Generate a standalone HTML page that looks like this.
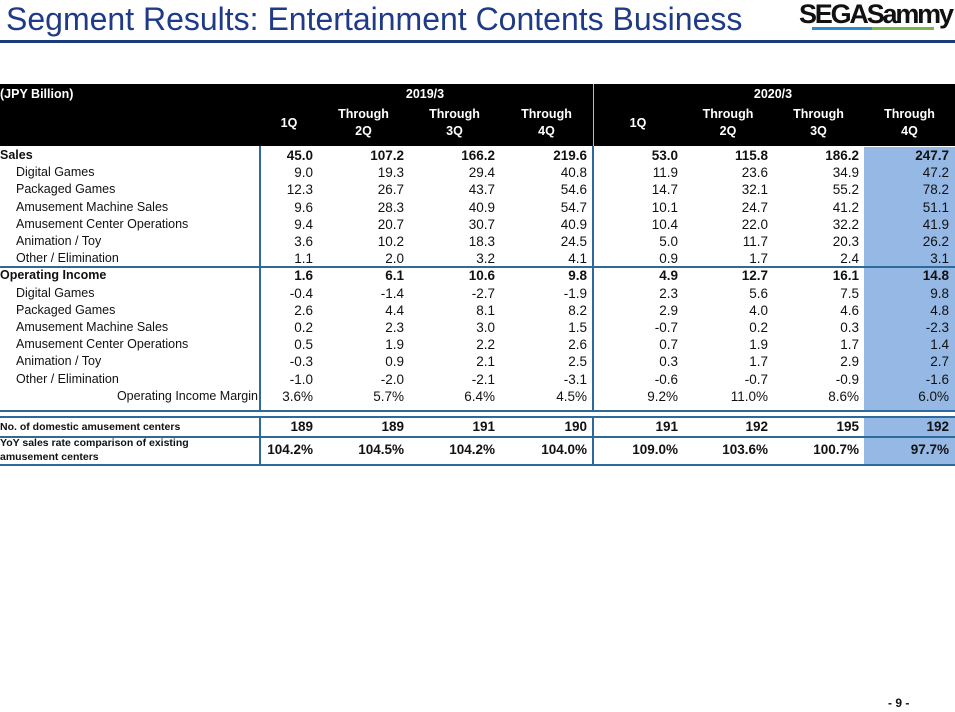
<!DOCTYPE html>
<html><head><meta charset="utf-8"><style>
body{margin:0;width:955px;height:712px;background:#fff;position:relative;overflow:hidden;font-family:"Liberation Sans",Arial,sans-serif;}
.a{position:absolute;}
.title{left:6px;top:1px;font-size:32px;color:#1f3b87;white-space:nowrap;}
.hl{left:0;top:40px;width:955px;height:3px;background:#1a3a7a;}
.hdr{left:0;top:84px;width:955px;height:62px;background:#000;}
.h{color:#fff;font-weight:bold;font-size:12.5px;text-align:center;line-height:17px;}
.row{position:absolute;left:0;width:955px;height:17.2px;line-height:17.2px;font-size:13.5px;color:#111;}
.row span{position:absolute;top:0;text-align:right;}
.lb{left:0;font-size:12.5px;text-align:left!important;}
.b{font-weight:bold;}
.blue{left:864px;top:147px;width:91px;height:318px;background:#95b8e4;}
.vl{width:2px;background:#2b6a9a;}
.hz{left:0;width:955px;height:2px;background:#2b6a9a;}
</style></head><body>
<div class="a title">Segment Results: Entertainment Contents Business</div>
<div class="a hl"></div>
<div class="a" style="left:799px;top:-1px;font-size:27px;font-weight:bold;letter-spacing:-2.2px;color:#111;">SEGASammy</div>
<div class="a" style="left:812px;top:27px;width:60px;height:3px;background:#2a8ccf;"></div>
<div class="a" style="left:872px;top:27px;width:62px;height:3px;background:#7ab648;"></div>
<div class="a blue"></div>
<div class="a hdr"></div>
<div class="a" style="left:593px;top:84px;width:1px;height:62px;background:#bbb;"></div>
<div class="a h" style="left:0;top:86px;">(JPY Billion)</div>
<div class="a h" style="left:385px;top:86px;width:80px;">2019/3</div>
<div class="a h" style="left:733px;top:86px;width:80px;">2020/3</div>
<div class="a h" style="left:260px;top:115px;width:58px;">1Q</div>
<div class="a h" style="left:318px;top:106px;width:91px;">Through<br>2Q</div>
<div class="a h" style="left:409px;top:106px;width:91px;">Through<br>3Q</div>
<div class="a h" style="left:500px;top:106px;width:93px;">Through<br>4Q</div>
<div class="a h" style="left:593px;top:115px;width:90px;">1Q</div>
<div class="a h" style="left:683px;top:106px;width:90px;">Through<br>2Q</div>
<div class="a h" style="left:773px;top:106px;width:91px;">Through<br>3Q</div>
<div class="a h" style="left:864px;top:106px;width:91px;">Through<br>4Q</div>

<div class="a vl" style="left:259px;top:146px;height:320px;"></div>
<div class="a vl" style="left:592px;top:146px;height:320px;"></div>
<div class="a hz" style="top:266px;"></div>
<div class="a hz" style="top:410px;"></div>
<div class="a hz" style="top:416px;"></div>
<div class="a hz" style="top:436px;"></div>
<div class="a hz" style="top:464px;"></div>
<div class="a" style="left:0;top:412px;width:955px;height:4px;background:#fff;"></div>

<div id="rows"></div>
<script>
var R=[
["Sales",1,["45.0","107.2","166.2","219.6","53.0","115.8","186.2","247.7"]],
["Digital Games",0,["9.0","19.3","29.4","40.8","11.9","23.6","34.9","47.2"]],
["Packaged Games",0,["12.3","26.7","43.7","54.6","14.7","32.1","55.2","78.2"]],
["Amusement Machine Sales",0,["9.6","28.3","40.9","54.7","10.1","24.7","41.2","51.1"]],
["Amusement Center Operations",0,["9.4","20.7","30.7","40.9","10.4","22.0","32.2","41.9"]],
["Animation / Toy",0,["3.6","10.2","18.3","24.5","5.0","11.7","20.3","26.2"]],
["Other / Elimination",0,["1.1","2.0","3.2","4.1","0.9","1.7","2.4","3.1"]],
["Operating Income",1,["1.6","6.1","10.6","9.8","4.9","12.7","16.1","14.8"]],
["Digital Games",0,["-0.4","-1.4","-2.7","-1.9","2.3","5.6","7.5","9.8"]],
["Packaged Games",0,["2.6","4.4","8.1","8.2","2.9","4.0","4.6","4.8"]],
["Amusement Machine Sales",0,["0.2","2.3","3.0","1.5","-0.7","0.2","0.3","-2.3"]],
["Amusement Center Operations",0,["0.5","1.9","2.2","2.6","0.7","1.9","1.7","1.4"]],
["Animation / Toy",0,["-0.3","0.9","2.1","2.5","0.3","1.7","2.9","2.7"]],
["Other / Elimination",0,["-1.0","-2.0","-2.1","-3.1","-0.6","-0.7","-0.9","-1.6"]],
["Operating Income Margin",2,["3.6%","5.7%","6.4%","4.5%","9.2%","11.0%","8.6%","6.0%"]]
];
var RE=[313,404,495,587,678,768,859,949];
var h="";
function cells(v,b){var s="";for(var j=0;j<8;j++){s+='<span class="'+(b?'b':'')+'" style="right:'+(955-RE[j])+'px">'+v[j]+'</span>';}return s;}
R.forEach(function(r,i){
 var top=147+i*17.2;
 var lab;
 if(r[1]==1) lab='<span class="lb b" style="left:0">'+r[0]+'</span>';
 else if(r[1]==2) lab='<span style="right:697px;font-size:12.5px">'+r[0]+'</span>';
 else lab='<span class="lb" style="left:16px">'+r[0]+'</span>';
 h+='<div class="row" style="top:'+top+'px">'+lab+cells(r[2],r[1]==1)+'</div>';
});
h+='<div class="row" style="top:418px;height:18px;line-height:18px">'+'<span class="lb b" style="left:0;font-size:10.5px">No. of domestic amusement centers</span>'+cells(["189","189","191","190","191","192","195","192"],1)+'</div>';
h+='<div class="a b" style="left:0;top:436px;font-size:10.5px;line-height:14px;color:#111">YoY sales rate comparison of existing<br>amusement centers</div>';
h+='<div class="row" style="top:441px;height:18px;line-height:18px">'+cells(["104.2%","104.5%","104.2%","104.0%","109.0%","103.6%","100.7%","97.7%"],1)+'</div>';
document.getElementById("rows").innerHTML=h;
</script>
<div class="a b" style="left:888px;top:696px;font-size:12px;color:#111;">- 9 -</div>
</body></html>
